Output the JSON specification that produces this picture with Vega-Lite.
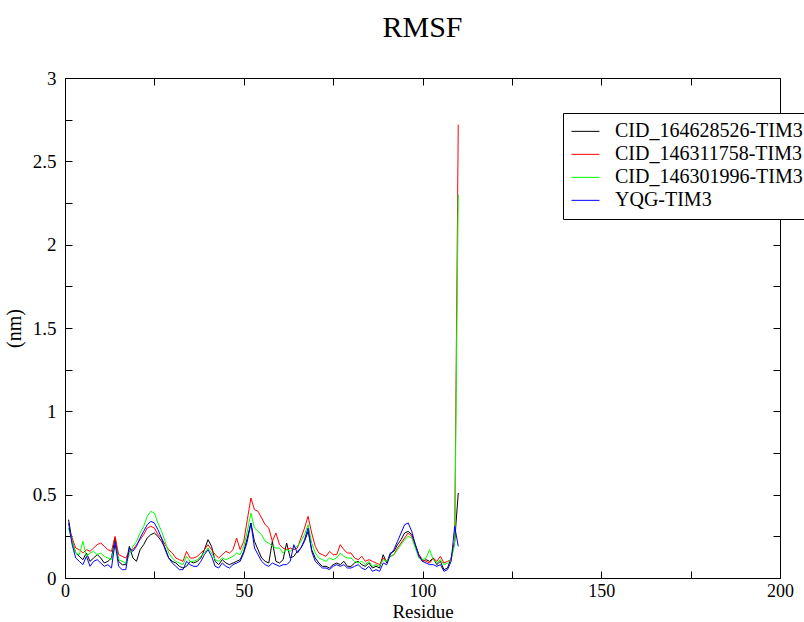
{
"$schema": "https://vega.github.io/schema/vega-lite/v6.json",
"width": 715,
"height": 500,
"autosize": "none",
"padding": {"left": 65, "top": 78, "right": 24, "bottom": 44},
"background": "white",
"title": {"text": "RMSF", "font": "Liberation Serif", "fontSize": 30, "fontWeight": "normal", "color": "black", "offset": 26, "frame": "group", "anchor": "middle"},
"data": {"values": [
{"Residue":1,"CID_164628526-TIM3":0.35,"CID_146311758-TIM3":0.30,"CID_146301996-TIM3":0.30,"YQG-TIM3":0.33},
{"Residue":2,"CID_164628526-TIM3":0.22,"CID_146311758-TIM3":0.24,"CID_146301996-TIM3":0.22,"YQG-TIM3":0.20},
{"Residue":3,"CID_164628526-TIM3":0.15,"CID_146311758-TIM3":0.18,"CID_146301996-TIM3":0.15,"YQG-TIM3":0.12},
{"Residue":4,"CID_164628526-TIM3":0.13,"CID_146311758-TIM3":0.17,"CID_146301996-TIM3":0.14,"YQG-TIM3":0.10},
{"Residue":5,"CID_164628526-TIM3":0.11,"CID_146311758-TIM3":0.15,"CID_146301996-TIM3":0.22,"YQG-TIM3":0.08},
{"Residue":6,"CID_164628526-TIM3":0.15,"CID_146311758-TIM3":0.17,"CID_146301996-TIM3":0.13,"YQG-TIM3":0.13},
{"Residue":7,"CID_164628526-TIM3":0.10,"CID_146311758-TIM3":0.16,"CID_146301996-TIM3":0.15,"YQG-TIM3":0.07},
{"Residue":8,"CID_164628526-TIM3":0.12,"CID_146311758-TIM3":0.18,"CID_146301996-TIM3":0.16,"YQG-TIM3":0.10},
{"Residue":9,"CID_164628526-TIM3":0.14,"CID_146311758-TIM3":0.20,"CID_146301996-TIM3":0.14,"YQG-TIM3":0.11},
{"Residue":10,"CID_164628526-TIM3":0.12,"CID_146311758-TIM3":0.21,"CID_146301996-TIM3":0.15,"YQG-TIM3":0.09},
{"Residue":11,"CID_164628526-TIM3":0.09,"CID_146311758-TIM3":0.19,"CID_146301996-TIM3":0.13,"YQG-TIM3":0.07},
{"Residue":12,"CID_164628526-TIM3":0.10,"CID_146311758-TIM3":0.17,"CID_146301996-TIM3":0.12,"YQG-TIM3":0.08},
{"Residue":13,"CID_164628526-TIM3":0.12,"CID_146311758-TIM3":0.16,"CID_146301996-TIM3":0.11,"YQG-TIM3":0.06},
{"Residue":14,"CID_164628526-TIM3":0.24,"CID_146311758-TIM3":0.25,"CID_146301996-TIM3":0.20,"YQG-TIM3":0.21},
{"Residue":15,"CID_164628526-TIM3":0.10,"CID_146311758-TIM3":0.14,"CID_146301996-TIM3":0.11,"YQG-TIM3":0.07},
{"Residue":16,"CID_164628526-TIM3":0.08,"CID_146311758-TIM3":0.13,"CID_146301996-TIM3":0.10,"YQG-TIM3":0.05},
{"Residue":17,"CID_164628526-TIM3":0.08,"CID_146311758-TIM3":0.12,"CID_146301996-TIM3":0.09,"YQG-TIM3":0.05},
{"Residue":18,"CID_164628526-TIM3":0.19,"CID_146311758-TIM3":0.16,"CID_146301996-TIM3":0.14,"YQG-TIM3":0.18},
{"Residue":19,"CID_164628526-TIM3":0.12,"CID_146311758-TIM3":0.17,"CID_146301996-TIM3":0.19,"YQG-TIM3":0.16},
{"Residue":20,"CID_164628526-TIM3":0.10,"CID_146311758-TIM3":0.20,"CID_146301996-TIM3":0.22,"YQG-TIM3":0.19},
{"Residue":21,"CID_164628526-TIM3":0.17,"CID_146311758-TIM3":0.23,"CID_146301996-TIM3":0.27,"YQG-TIM3":0.24},
{"Residue":22,"CID_164628526-TIM3":0.20,"CID_146311758-TIM3":0.26,"CID_146301996-TIM3":0.31,"YQG-TIM3":0.28},
{"Residue":23,"CID_164628526-TIM3":0.24,"CID_146311758-TIM3":0.30,"CID_146301996-TIM3":0.37,"YQG-TIM3":0.32},
{"Residue":24,"CID_164628526-TIM3":0.26,"CID_146311758-TIM3":0.31,"CID_146301996-TIM3":0.40,"YQG-TIM3":0.34},
{"Residue":25,"CID_164628526-TIM3":0.27,"CID_146311758-TIM3":0.30,"CID_146301996-TIM3":0.39,"YQG-TIM3":0.33},
{"Residue":26,"CID_164628526-TIM3":0.25,"CID_146311758-TIM3":0.26,"CID_146301996-TIM3":0.33,"YQG-TIM3":0.29},
{"Residue":27,"CID_164628526-TIM3":0.22,"CID_146311758-TIM3":0.24,"CID_146301996-TIM3":0.28,"YQG-TIM3":0.24},
{"Residue":28,"CID_164628526-TIM3":0.18,"CID_146311758-TIM3":0.20,"CID_146301996-TIM3":0.22,"YQG-TIM3":0.17},
{"Residue":29,"CID_164628526-TIM3":0.12,"CID_146311758-TIM3":0.17,"CID_146301996-TIM3":0.15,"YQG-TIM3":0.12},
{"Residue":30,"CID_164628526-TIM3":0.10,"CID_146311758-TIM3":0.15,"CID_146301996-TIM3":0.12,"YQG-TIM3":0.09},
{"Residue":31,"CID_164628526-TIM3":0.09,"CID_146311758-TIM3":0.12,"CID_146301996-TIM3":0.10,"YQG-TIM3":0.07},
{"Residue":32,"CID_164628526-TIM3":0.07,"CID_146311758-TIM3":0.11,"CID_146301996-TIM3":0.09,"YQG-TIM3":0.05},
{"Residue":33,"CID_164628526-TIM3":0.06,"CID_146311758-TIM3":0.10,"CID_146301996-TIM3":0.08,"YQG-TIM3":0.05},
{"Residue":34,"CID_164628526-TIM3":0.07,"CID_146311758-TIM3":0.16,"CID_146301996-TIM3":0.13,"YQG-TIM3":0.10},
{"Residue":35,"CID_164628526-TIM3":0.10,"CID_146311758-TIM3":0.12,"CID_146301996-TIM3":0.10,"YQG-TIM3":0.08},
{"Residue":36,"CID_164628526-TIM3":0.09,"CID_146311758-TIM3":0.12,"CID_146301996-TIM3":0.10,"YQG-TIM3":0.07},
{"Residue":37,"CID_164628526-TIM3":0.10,"CID_146311758-TIM3":0.13,"CID_146301996-TIM3":0.11,"YQG-TIM3":0.07},
{"Residue":38,"CID_164628526-TIM3":0.12,"CID_146311758-TIM3":0.15,"CID_146301996-TIM3":0.13,"YQG-TIM3":0.10},
{"Residue":39,"CID_164628526-TIM3":0.17,"CID_146311758-TIM3":0.17,"CID_146301996-TIM3":0.15,"YQG-TIM3":0.14},
{"Residue":40,"CID_164628526-TIM3":0.23,"CID_146311758-TIM3":0.20,"CID_146301996-TIM3":0.18,"YQG-TIM3":0.17},
{"Residue":41,"CID_164628526-TIM3":0.19,"CID_146311758-TIM3":0.17,"CID_146301996-TIM3":0.15,"YQG-TIM3":0.13},
{"Residue":42,"CID_164628526-TIM3":0.10,"CID_146311758-TIM3":0.14,"CID_146301996-TIM3":0.11,"YQG-TIM3":0.07},
{"Residue":43,"CID_164628526-TIM3":0.08,"CID_146311758-TIM3":0.12,"CID_146301996-TIM3":0.10,"YQG-TIM3":0.06},
{"Residue":44,"CID_164628526-TIM3":0.11,"CID_146311758-TIM3":0.14,"CID_146301996-TIM3":0.12,"YQG-TIM3":0.09},
{"Residue":45,"CID_164628526-TIM3":0.09,"CID_146311758-TIM3":0.16,"CID_146301996-TIM3":0.11,"YQG-TIM3":0.07},
{"Residue":46,"CID_164628526-TIM3":0.08,"CID_146311758-TIM3":0.15,"CID_146301996-TIM3":0.12,"YQG-TIM3":0.06},
{"Residue":47,"CID_164628526-TIM3":0.09,"CID_146311758-TIM3":0.17,"CID_146301996-TIM3":0.13,"YQG-TIM3":0.08},
{"Residue":48,"CID_164628526-TIM3":0.10,"CID_146311758-TIM3":0.24,"CID_146301996-TIM3":0.15,"YQG-TIM3":0.09},
{"Residue":49,"CID_164628526-TIM3":0.11,"CID_146311758-TIM3":0.17,"CID_146301996-TIM3":0.14,"YQG-TIM3":0.10},
{"Residue":50,"CID_164628526-TIM3":0.16,"CID_146311758-TIM3":0.22,"CID_146301996-TIM3":0.19,"YQG-TIM3":0.15},
{"Residue":51,"CID_164628526-TIM3":0.24,"CID_146311758-TIM3":0.35,"CID_146301996-TIM3":0.28,"YQG-TIM3":0.22},
{"Residue":52,"CID_164628526-TIM3":0.33,"CID_146311758-TIM3":0.48,"CID_146301996-TIM3":0.39,"YQG-TIM3":0.33},
{"Residue":53,"CID_164628526-TIM3":0.22,"CID_146311758-TIM3":0.41,"CID_146301996-TIM3":0.30,"YQG-TIM3":0.18},
{"Residue":54,"CID_164628526-TIM3":0.17,"CID_146311758-TIM3":0.40,"CID_146301996-TIM3":0.28,"YQG-TIM3":0.14},
{"Residue":55,"CID_164628526-TIM3":0.12,"CID_146311758-TIM3":0.36,"CID_146301996-TIM3":0.26,"YQG-TIM3":0.10},
{"Residue":56,"CID_164628526-TIM3":0.10,"CID_146311758-TIM3":0.32,"CID_146301996-TIM3":0.22,"YQG-TIM3":0.08},
{"Residue":57,"CID_164628526-TIM3":0.09,"CID_146311758-TIM3":0.30,"CID_146301996-TIM3":0.21,"YQG-TIM3":0.07},
{"Residue":58,"CID_164628526-TIM3":0.22,"CID_146311758-TIM3":0.22,"CID_146301996-TIM3":0.19,"YQG-TIM3":0.09},
{"Residue":59,"CID_164628526-TIM3":0.10,"CID_146311758-TIM3":0.27,"CID_146301996-TIM3":0.18,"YQG-TIM3":0.08},
{"Residue":60,"CID_164628526-TIM3":0.09,"CID_146311758-TIM3":0.20,"CID_146301996-TIM3":0.18,"YQG-TIM3":0.07},
{"Residue":61,"CID_164628526-TIM3":0.11,"CID_146311758-TIM3":0.18,"CID_146301996-TIM3":0.15,"YQG-TIM3":0.08},
{"Residue":62,"CID_164628526-TIM3":0.21,"CID_146311758-TIM3":0.17,"CID_146301996-TIM3":0.17,"YQG-TIM3":0.08},
{"Residue":63,"CID_164628526-TIM3":0.12,"CID_146311758-TIM3":0.18,"CID_146301996-TIM3":0.16,"YQG-TIM3":0.10},
{"Residue":64,"CID_164628526-TIM3":0.13,"CID_146311758-TIM3":0.17,"CID_146301996-TIM3":0.18,"YQG-TIM3":0.20},
{"Residue":65,"CID_164628526-TIM3":0.16,"CID_146311758-TIM3":0.18,"CID_146301996-TIM3":0.19,"YQG-TIM3":0.15},
{"Residue":66,"CID_164628526-TIM3":0.18,"CID_146311758-TIM3":0.24,"CID_146301996-TIM3":0.22,"YQG-TIM3":0.18},
{"Residue":67,"CID_164628526-TIM3":0.22,"CID_146311758-TIM3":0.30,"CID_146301996-TIM3":0.26,"YQG-TIM3":0.23},
{"Residue":68,"CID_164628526-TIM3":0.28,"CID_146311758-TIM3":0.37,"CID_146301996-TIM3":0.32,"YQG-TIM3":0.30},
{"Residue":69,"CID_164628526-TIM3":0.17,"CID_146311758-TIM3":0.27,"CID_146301996-TIM3":0.21,"YQG-TIM3":0.16},
{"Residue":70,"CID_164628526-TIM3":0.12,"CID_146311758-TIM3":0.19,"CID_146301996-TIM3":0.15,"YQG-TIM3":0.10},
{"Residue":71,"CID_164628526-TIM3":0.09,"CID_146311758-TIM3":0.15,"CID_146301996-TIM3":0.12,"YQG-TIM3":0.08},
{"Residue":72,"CID_164628526-TIM3":0.07,"CID_146311758-TIM3":0.14,"CID_146301996-TIM3":0.11,"YQG-TIM3":0.06},
{"Residue":73,"CID_164628526-TIM3":0.07,"CID_146311758-TIM3":0.13,"CID_146301996-TIM3":0.10,"YQG-TIM3":0.06},
{"Residue":74,"CID_164628526-TIM3":0.06,"CID_146311758-TIM3":0.16,"CID_146301996-TIM3":0.12,"YQG-TIM3":0.05},
{"Residue":75,"CID_164628526-TIM3":0.08,"CID_146311758-TIM3":0.14,"CID_146301996-TIM3":0.11,"YQG-TIM3":0.07},
{"Residue":76,"CID_164628526-TIM3":0.09,"CID_146311758-TIM3":0.14,"CID_146301996-TIM3":0.12,"YQG-TIM3":0.08},
{"Residue":77,"CID_164628526-TIM3":0.08,"CID_146311758-TIM3":0.20,"CID_146301996-TIM3":0.15,"YQG-TIM3":0.07},
{"Residue":78,"CID_164628526-TIM3":0.10,"CID_146311758-TIM3":0.17,"CID_146301996-TIM3":0.13,"YQG-TIM3":0.08},
{"Residue":79,"CID_164628526-TIM3":0.07,"CID_146311758-TIM3":0.15,"CID_146301996-TIM3":0.12,"YQG-TIM3":0.06},
{"Residue":80,"CID_164628526-TIM3":0.07,"CID_146311758-TIM3":0.15,"CID_146301996-TIM3":0.12,"YQG-TIM3":0.06},
{"Residue":81,"CID_164628526-TIM3":0.09,"CID_146311758-TIM3":0.12,"CID_146301996-TIM3":0.10,"YQG-TIM3":0.07},
{"Residue":82,"CID_164628526-TIM3":0.10,"CID_146311758-TIM3":0.11,"CID_146301996-TIM3":0.09,"YQG-TIM3":0.08},
{"Residue":83,"CID_164628526-TIM3":0.08,"CID_146311758-TIM3":0.13,"CID_146301996-TIM3":0.10,"YQG-TIM3":0.06},
{"Residue":84,"CID_164628526-TIM3":0.07,"CID_146311758-TIM3":0.10,"CID_146301996-TIM3":0.08,"YQG-TIM3":0.05},
{"Residue":85,"CID_164628526-TIM3":0.09,"CID_146311758-TIM3":0.11,"CID_146301996-TIM3":0.10,"YQG-TIM3":0.07},
{"Residue":86,"CID_164628526-TIM3":0.06,"CID_146311758-TIM3":0.10,"CID_146301996-TIM3":0.07,"YQG-TIM3":0.04},
{"Residue":87,"CID_164628526-TIM3":0.07,"CID_146311758-TIM3":0.09,"CID_146301996-TIM3":0.08,"YQG-TIM3":0.05},
{"Residue":88,"CID_164628526-TIM3":0.06,"CID_146311758-TIM3":0.08,"CID_146301996-TIM3":0.07,"YQG-TIM3":0.04},
{"Residue":89,"CID_164628526-TIM3":0.14,"CID_146311758-TIM3":0.12,"CID_146301996-TIM3":0.11,"YQG-TIM3":0.09},
{"Residue":90,"CID_164628526-TIM3":0.09,"CID_146311758-TIM3":0.10,"CID_146301996-TIM3":0.10,"YQG-TIM3":0.08},
{"Residue":91,"CID_164628526-TIM3":0.15,"CID_146311758-TIM3":0.13,"CID_146301996-TIM3":0.13,"YQG-TIM3":0.14},
{"Residue":92,"CID_164628526-TIM3":0.16,"CID_146311758-TIM3":0.14,"CID_146301996-TIM3":0.14,"YQG-TIM3":0.17},
{"Residue":93,"CID_164628526-TIM3":0.20,"CID_146311758-TIM3":0.18,"CID_146301996-TIM3":0.17,"YQG-TIM3":0.22},
{"Residue":94,"CID_164628526-TIM3":0.23,"CID_146311758-TIM3":0.21,"CID_146301996-TIM3":0.20,"YQG-TIM3":0.27},
{"Residue":95,"CID_164628526-TIM3":0.27,"CID_146311758-TIM3":0.24,"CID_146301996-TIM3":0.23,"YQG-TIM3":0.32},
{"Residue":96,"CID_164628526-TIM3":0.28,"CID_146311758-TIM3":0.27,"CID_146301996-TIM3":0.25,"YQG-TIM3":0.33},
{"Residue":97,"CID_164628526-TIM3":0.26,"CID_146311758-TIM3":0.25,"CID_146301996-TIM3":0.24,"YQG-TIM3":0.28},
{"Residue":98,"CID_164628526-TIM3":0.20,"CID_146311758-TIM3":0.19,"CID_146301996-TIM3":0.18,"YQG-TIM3":0.20},
{"Residue":99,"CID_164628526-TIM3":0.14,"CID_146311758-TIM3":0.14,"CID_146301996-TIM3":0.12,"YQG-TIM3":0.13},
{"Residue":100,"CID_164628526-TIM3":0.10,"CID_146311758-TIM3":0.11,"CID_146301996-TIM3":0.11,"YQG-TIM3":0.10},
{"Residue":101,"CID_164628526-TIM3":0.11,"CID_146311758-TIM3":0.10,"CID_146301996-TIM3":0.12,"YQG-TIM3":0.09},
{"Residue":102,"CID_164628526-TIM3":0.10,"CID_146311758-TIM3":0.09,"CID_146301996-TIM3":0.17,"YQG-TIM3":0.08},
{"Residue":103,"CID_164628526-TIM3":0.12,"CID_146311758-TIM3":0.12,"CID_146301996-TIM3":0.11,"YQG-TIM3":0.08},
{"Residue":104,"CID_164628526-TIM3":0.08,"CID_146311758-TIM3":0.10,"CID_146301996-TIM3":0.09,"YQG-TIM3":0.07},
{"Residue":105,"CID_164628526-TIM3":0.10,"CID_146311758-TIM3":0.13,"CID_146301996-TIM3":0.11,"YQG-TIM3":0.08},
{"Residue":106,"CID_164628526-TIM3":0.05,"CID_146311758-TIM3":0.09,"CID_146301996-TIM3":0.08,"YQG-TIM3":0.04},
{"Residue":107,"CID_164628526-TIM3":0.06,"CID_146311758-TIM3":0.10,"CID_146301996-TIM3":0.09,"YQG-TIM3":0.05},
{"Residue":108,"CID_164628526-TIM3":0.12,"CID_146311758-TIM3":0.11,"CID_146301996-TIM3":0.11,"YQG-TIM3":0.10},
{"Residue":109,"CID_164628526-TIM3":0.22,"CID_146311758-TIM3":0.22,"CID_146301996-TIM3":0.20,"YQG-TIM3":0.31},
{"Residue":110,"CID_164628526-TIM3":0.51,"CID_146311758-TIM3":2.72,"CID_146301996-TIM3":2.30,"YQG-TIM3":0.19}
]},
"transform": [{"fold": ["CID_164628526-TIM3","CID_146311758-TIM3","CID_146301996-TIM3","YQG-TIM3"], "as": ["Ligand","RMSF"]}],
"layer": [
{
"mark": {"type": "line", "strokeWidth": 1, "clip": true},
"encoding": {
"x": {"field": "Residue", "type": "quantitative", "scale": {"domain": [0,200], "nice": false, "zero": false},
"axis": {"orient": "bottom", "title": "Residue", "values": [0,25,50,75,100,125,150,175,200], "labelExpr": "datum.value % 50 === 0 ? datum.label : ''", "labelFontSize": 18, "tickSize": -7, "labelPadding": 11, "titlePadding": 2, "titleFontSize": 19, "encode": {"ticks": {"update": {"y2": {"signal": "datum.value % 50 === 0 ? -13 : -7"}}}}}},
"y": {"field": "RMSF", "type": "quantitative", "scale": {"domain": [0,3], "nice": false},
"axis": {"orient": "left", "title": "(nm)", "values": [0,0.25,0.5,0.75,1,1.25,1.5,1.75,2,2.25,2.5,2.75,3], "format": "~g", "labelExpr": "datum.value % 0.5 === 0 ? datum.label : ''", "tickSize": -7, "labelPadding": 16, "titlePadding": 8, "encode": {"ticks": {"update": {"x2": {"signal": "datum.value % 0.5 === 0 ? 13 : 7"}}}}}},
"color": {"field": "Ligand", "type": "nominal",
"scale": {"domain": ["CID_164628526-TIM3","CID_146311758-TIM3","CID_146301996-TIM3","YQG-TIM3"], "range": ["#000000","#ff0000","#00ff00","#0000ff"]},
"legend": {"orient": "none", "legendX": 498, "legendY": 35, "title": null, "symbolType": "stroke", "symbolSize": 784, "symbolStrokeWidth": 1, "clipHeight": 20.7, "labelFont": "Liberation Serif", "labelFontSize": 20, "labelColor": "black", "labelOffset": 15, "labelLimit": 0, "strokeColor": "black", "fillColor": "white", "padding": 8, "rowPadding": 2}}
}
},
{
"mark": {"type": "line", "opacity": 0, "strokeWidth": 1},
"encoding": {
"x": {"field": "Residue", "type": "quantitative",
"axis": {"orient": "top", "title": null, "labels": false, "values": [0,25,50,75,100,125,150,175,200], "tickSize": -7, "encode": {"ticks": {"update": {"y2": {"signal": "datum.value % 50 === 0 ? 13 : 7"}}}}}},
"y": {"field": "RMSF", "type": "quantitative",
"axis": {"orient": "right", "title": null, "labels": false, "values": [0,0.25,0.5,0.75,1,1.25,1.5,1.75,2,2.25,2.5,2.75,3], "tickSize": -7, "encode": {"ticks": {"update": {"x2": {"signal": "datum.value % 0.5 === 0 ? -13 : -7"}}}}}},
"detail": {"field": "Ligand", "type": "nominal"}
}
}
],
"resolve": {"axis": {"x": "independent", "y": "independent"}},
"config": {
"font": "Liberation Serif",
"view": {"stroke": null},
"axis": {"grid": false, "domainColor": "black", "domainWidth": 1, "tickColor": "black", "tickWidth": 1, "labelFont": "Liberation Serif", "labelFontSize": 19, "labelColor": "black", "labelFlush": false, "labelOverlap": false, "titleFont": "Liberation Serif", "titleFontSize": 20, "titleFontWeight": "normal", "titleColor": "black"}
}
}
